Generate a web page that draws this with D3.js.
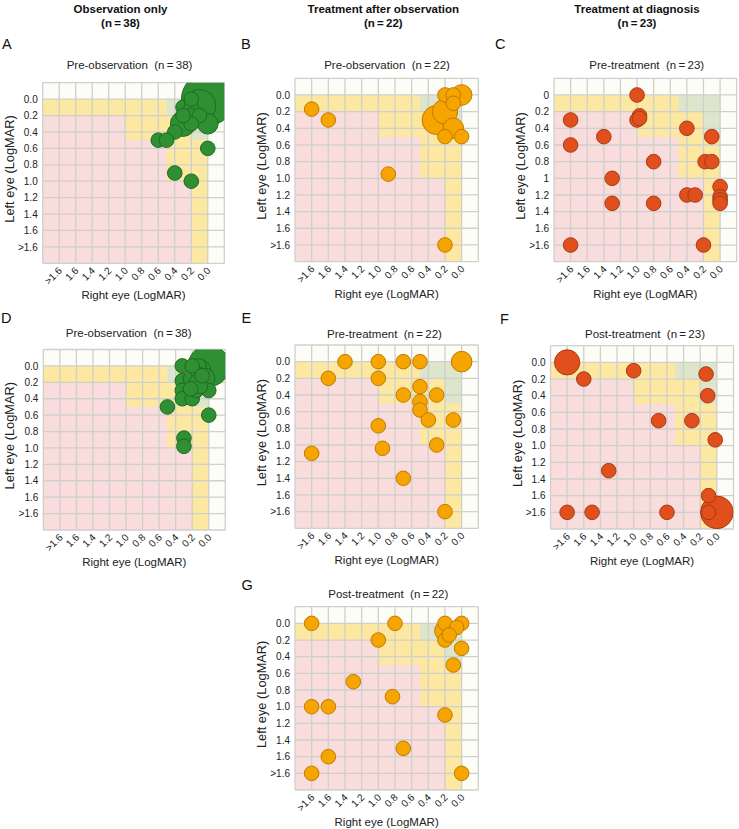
<!DOCTYPE html>
<html><head><meta charset="utf-8">
<script src="https://cdn.jsdelivr.net/npm/d3@7"></script>
<style>
body{margin:0;background:#fff;}
svg{display:block;font-family:"Liberation Sans",Arial,Helvetica,sans-serif;}
</style>
</head><body>
<svg id="chart" width="739" height="829"></svg>
<script>
// ---------- data ----------
const columnTitles = ["Observation only", "Treatment after observation", "Treatment at diagnosis"];
const columnN = ["(n\u2009=\u200938)", "(n\u2009=\u200922)", "(n\u2009=\u200923)"];
const panelLetters = ["A", "B", "C", "D", "E", "F", "G"];
const panelTitles = ["Pre-observation", "Pre-observation", "Pre-treatment", "Pre-observation", "Pre-treatment", "Post-treatment", "Post-treatment"];
const panelN = [38, 22, 23, 38, 22, 23, 22];

const xTickValues = [1.8, 1.6, 1.4, 1.2, 1.0, 0.8, 0.6, 0.4, 0.2, 0.0];
const xTickLabels = [">1.6", "1.6", "1.4", "1.2", "1.0", "0.8", "0.6", "0.4", "0.2", "0.0"];
const yTickValues = [0.0, 0.2, 0.4, 0.6, 0.8, 1.0, 1.2, 1.4, 1.6, 1.8];
const yTickLabels = ["0.0", "0.2", "0.4", "0.6", "0.8", "1.0", "1.2", "1.4", "1.6", ">1.6"];
const yTickLabelsC = ["0", "0.2", "0.4", "0.6", "0.8", "1", "1.2", "1.4", "1.6", ">1.6"];
const gridValues = [-0.2, 0.0, 0.2, 0.4, 0.6, 0.8, 1.0, 1.2, 1.4, 1.6, 1.8, 2.0];

// zones: [right eye min, right eye max, left eye min, left eye max]
const pinkZones = [[0, 2.0, 0, 2.0]];
const yellowZones = [[0, 2.0, 0, 0.2], [0, 0.2, 0, 2.0], [0, 1.0, 0, 0.5], [0, 0.5, 0, 1.0]];
const greenZones = [[0, 0.5, 0, 0.2], [0, 0.2, 0, 0.5]];

// points: [right eye, left eye, patients]  (>1.6 coded as 1.8)
const dataA = [[0.0,0.0,13],[0.1,0.08,5],[0.3,0.3,3],[0.0,0.3,2],[0.4,0.4,1],[0.3,0.1,1],[0.2,0.1,1],
  [0.2,0.0,1],[0.2,0.2,1],[0.6,0.5,1],[0.5,0.5,1],[0.4,0.9,1],[0.2,1.0,1],[0.0,0.6,1],[0.1,0.2,1],[0.2,0.3,1],[0.3,0.2,1]];
const dataB = [[1.8,0.17,1],[1.6,0.3,1],[0.88,0.95,1],[0.2,1.8,1],[0.2,0.0,1],[0.1,0.0,1],[0.0,0.0,2],
  [0.1,0.1,1],[0.2,0.2,3],[0.3,0.3,4],[0.1,0.4,2],[0.2,0.5,1],[0.0,0.5,1]];
const dataC = [[1.0,0.0,1],[0.97,0.25,1],[1.0,0.3,1],[1.8,0.3,1],[1.8,0.6,1],[1.4,0.5,1],[0.8,0.8,1],
  [1.3,1.0,1],[1.3,1.3,1],[0.8,1.3,1],[1.8,1.8,1],[0.2,1.8,1],[0.4,0.4,1],[0.1,0.5,1],[0.18,0.8,1],
  [0.1,0.8,1],[0.0,1.1,1],[0.4,1.2,1],[0.3,1.2,1],[0.0,1.22,1],[0.0,1.26,1],[0.0,1.3,1],[0.97,0.28,1]];
const dataD = [[0.0,0.0,8],[0.1,0.05,2],[0.05,0.15,2],[0.32,0.0,1],[0.32,0.18,1],[0.32,0.3,1],[0.32,0.4,1],
  [0.2,0.4,1],[0.22,0.16,1],[0.12,0.0,1],[0.12,0.1,1],[0.0,0.3,1],[0.5,0.5,1],[0.0,0.6,1],[0.3,0.88,1],
  [0.3,0.98,1],[0.2,0.0,1],[0.15,0.2,1],[0.15,0.3,1],[0.1,0.25,1],[0.22,0.28,1],[0.08,0.12,1]];
const dataE = [[1.4,0.0,1],[1.0,0.0,1],[0.7,0.0,1],[0.5,0.0,1],[0.0,0.0,2],[1.6,0.2,1],[1.0,0.2,1],
  [0.5,0.3,1],[0.7,0.4,1],[0.3,0.4,1],[0.5,0.48,1],[0.5,0.58,1],[0.4,0.7,1],[0.1,0.7,1],[1.0,0.77,1],
  [0.95,1.04,1],[0.3,1.0,1],[1.8,1.1,1],[0.7,1.4,1],[0.2,1.8,1]];
const dataF = [[1.8,0.0,3],[1.6,0.2,1],[1.0,0.1,1],[0.13,0.14,1],[0.11,0.4,1],[0.7,0.7,1],[0.3,0.7,1],
  [0.02,0.93,1],[1.3,1.3,1],[1.8,1.8,1],[1.5,1.8,1],[0.6,1.8,1],[0.1,1.6,1],[0.1,1.8,1],[0.0,1.8,5]];
const dataG = [[1.8,0.0,1],[0.8,0.0,1],[1.0,0.2,1],[1.3,0.7,1],[0.83,0.88,1],[1.8,1.0,1],[1.6,1.0,1],
  [1.6,1.6,1],[1.8,1.8,1],[0.7,1.5,1],[0.2,1.1,1],[0.0,1.8,1],[0.1,0.5,1],[0.0,0.3,1],[0.2,0.0,1],
  [0.0,0.0,1],[0.06,0.05,1],[0.2,0.09,2],[0.2,0.2,1],[0.15,0.14,1]];

// ---------- styles / layout ----------
const fills = ["#2f8f33", "#f6a400", "#e1501c"];
const strokes = ["#1f6a22", "#c07a00", "#a63a16"];
const zoneColors = {white: "#fdfdf8", pink: "#f9dcdc", yellow: "#fde8a2", green: "#dde6cd"};

const panels = [
  {data: dataA, c: 0, left: 42.7, top: 82.7, w: 181.6, h: 180.6, yl: yTickLabels, tx: 129.5, ty: 69.3, lx: 2, ly: 49},
  {data: dataB, c: 1, left: 295, top: 78.3, w: 183.3, h: 183.3, yl: yTickLabels, tx: 387, ty: 69.3, lx: 241, ly: 48.5},
  {data: dataC, c: 2, left: 554, top: 78.3, w: 182.7, h: 183.4, yl: yTickLabelsC, tx: 646.7, ty: 69.3, lx: 495, ly: 49.3},
  {data: dataD, c: 0, left: 43.3, top: 349.5, w: 182, h: 180.5, yl: yTickLabels, tx: 128.7, ty: 336.7, lx: 1, ly: 323.3},
  {data: dataE, c: 1, left: 295, top: 345, w: 183.3, h: 183.3, yl: yTickLabels, tx: 384.5, ty: 337.5, lx: 241.5, ly: 323.3},
  {data: dataF, c: 2, left: 550.5, top: 345.7, w: 183, h: 183.3, yl: yTickLabels, tx: 645, ty: 337.5, lx: 500, ly: 324.3},
  {data: dataG, c: 1, left: 295, top: 606.7, w: 183.3, h: 183.3, yl: yTickLabels, tx: 388.3, ty: 597.7, lx: 241.5, ly: 590}
];
const headerX = [120.5, 383.3, 637];

const svg = d3.select("#chart");
svg.append("rect").attr("width", 739).attr("height", 829).attr("fill", "#ffffff");

// column headers
columnTitles.forEach((t, i) => {
  const g = svg.append("g").attr("font-weight", "bold").attr("font-size", "11.5px").attr("text-anchor", "middle").attr("fill", "#111");
  g.append("text").attr("x", headerX[i]).attr("y", 13).text(t);
  g.append("text").attr("x", headerX[i]).attr("y", 26.7).text(columnN[i]);
});

const rScale = d3.scaleSqrt().domain([0, 1]).range([0, 7.3]);

panels.forEach((p, pi) => {
  const x = d3.scaleLinear().domain([2.0, -0.2]).range([0, p.w]);
  const y = d3.scaleLinear().domain([-0.2, 2.0]).range([0, p.h]);

  // panel letter & title
  svg.append("text").attr("x", p.lx).attr("y", p.ly).attr("font-size", "14.5px").attr("fill", "#111").text(panelLetters[pi]);
  svg.append("text").attr("x", p.tx).attr("y", p.ty).attr("text-anchor", "middle").attr("font-size", "11.5px").attr("fill", "#222")
    .text(panelTitles[pi] + "\u00a0\u00a0(n\u2009=\u2009" + panelN[pi] + ")");

  const g = svg.append("g").attr("transform", `translate(${p.left},${p.top})`);

  g.append("rect").attr("width", p.w).attr("height", p.h).attr("fill", zoneColors.white);
  const zoneRect = (arr, col) => g.selectAll(null).data(arr).enter().append("rect")
    .attr("x", d => x(d[1])).attr("width", d => x(d[0]) - x(d[1]))
    .attr("y", d => y(d[2])).attr("height", d => y(d[3]) - y(d[2]))
    .attr("fill", col);
  zoneRect(pinkZones, zoneColors.pink);
  zoneRect(yellowZones, zoneColors.yellow);
  zoneRect(greenZones, zoneColors.green);

  // grid
  g.selectAll(null).data(gridValues).enter().append("line")
    .attr("x1", d => x(d)).attr("x2", d => x(d)).attr("y1", 0).attr("y2", p.h)
    .attr("stroke", "#cfcfcc").attr("stroke-width", 1.3);
  g.selectAll(null).data(gridValues).enter().append("line")
    .attr("y1", d => y(d)).attr("y2", d => y(d)).attr("x1", 0).attr("x2", p.w)
    .attr("stroke", "#cfcfcc").attr("stroke-width", 1.3);

  // y axis
  const ya = g.append("g").call(d3.axisLeft(y).tickValues(yTickValues).tickFormat((d, i) => p.yl[i]).tickSize(0).tickPadding(5));
  ya.select(".domain").remove();
  ya.selectAll("text").attr("font-size", "10px").attr("fill", "#222").attr("font-family", null);

  // x axis
  const xa = g.append("g").attr("transform", `translate(0,${p.h})`)
    .call(d3.axisBottom(x).tickValues(xTickValues).tickFormat((d, i) => xTickLabels[i]).tickSize(0));
  xa.select(".domain").remove();
  xa.selectAll("text").attr("font-size", "10px").attr("fill", "#222").attr("font-family", null)
    .attr("text-anchor", "end").attr("dy", null).attr("y", 0)
    .attr("transform", "translate(3,8) rotate(-45)");

  // axis titles
  g.append("text").attr("x", p.w / 2).attr("y", p.h + 36).attr("text-anchor", "middle")
    .attr("font-size", "11.5px").attr("fill", "#222").text("Right eye (LogMAR)");
  g.append("text").attr("transform", `translate(-29,${p.h / 2 - 4}) rotate(-90)`).attr("text-anchor", "middle")
    .attr("font-size", "12.8px").attr("fill", "#222").text("Left eye (LogMAR)");

  // circles
  const clipId = "clip" + pi;
  g.append("clipPath").attr("id", clipId).append("rect").attr("width", p.w).attr("height", p.h);
  const sorted = p.data.slice().sort((a, b) => b[2] - a[2]);
  g.append("g").attr("clip-path", `url(#${clipId})`)
    .selectAll("circle").data(sorted).enter().append("circle")
    .attr("cx", d => x(d[0])).attr("cy", d => y(d[1])).attr("r", d => rScale(d[2]))
    .attr("fill", fills[p.c]).attr("stroke", strokes[p.c]).attr("stroke-width", 1);
});
</script>
</body></html>
